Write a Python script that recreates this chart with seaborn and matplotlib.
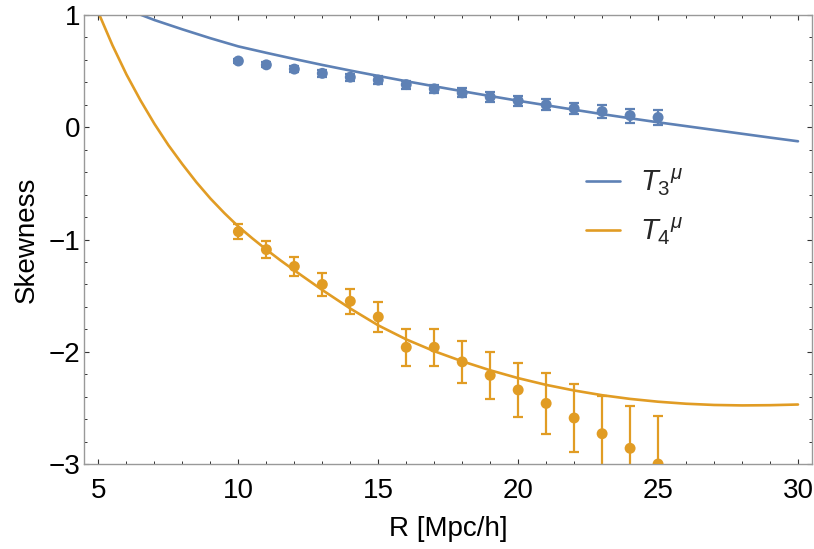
import matplotlib
matplotlib.use("Agg")
import numpy as np
import pandas as pd
import seaborn as sns
import matplotlib.pyplot as plt
from matplotlib.ticker import MultipleLocator
from matplotlib.lines import Line2D

# ---------------- data ----------------
R_pts = [10, 11, 12, 13, 14, 15, 16, 17, 18, 19, 20, 21, 22, 23, 24, 25]

T3_pts = [0.59, 0.556, 0.518, 0.48, 0.446, 0.42, 0.38, 0.342, 0.306, 0.27,
          0.235, 0.20, 0.167, 0.14, 0.104, 0.087]
T3_err = [0.02, 0.022, 0.025, 0.028, 0.03, 0.033, 0.035, 0.037, 0.04, 0.042,
          0.045, 0.048, 0.052, 0.056, 0.062, 0.068]

T4_pts = [-0.93, -1.09, -1.24, -1.40, -1.55, -1.69, -1.96, -1.96, -2.09, -2.21,
          -2.34, -2.46, -2.59, -2.73, -2.86, -3.0]
T4_err = [0.064, 0.074, 0.086, 0.10, 0.11, 0.13, 0.165, 0.165, 0.19, 0.21,
          0.24, 0.27, 0.30, 0.34, 0.38, 0.43]

R_T3_curve = [6.5, 7, 8, 9, 10, 11, 12, 13, 14, 15, 16, 17, 18, 19, 20, 21,
              22, 23, 24, 25, 26, 27, 28, 29, 30]
T3_curve = [1.003, 0.955, 0.872, 0.793, 0.72, 0.663, 0.608, 0.555, 0.505, 0.457,
            0.41, 0.365, 0.321, 0.278, 0.236, 0.196, 0.156, 0.117, 0.08, 0.044,
            0.01, -0.024, -0.058, -0.092, -0.125]

R_T4_curve = [5.0, 5.5, 6.0, 6.5, 7.0, 7.5, 8.0, 8.5, 9.0, 9.5, 10, 10.5,
              11, 11.5, 12, 13, 14, 15, 16, 17, 18, 19, 20, 21, 22, 23, 24,
              25, 26, 27, 28, 29, 30]
T4_curve = [1.02, 0.73, 0.47, 0.24, 0.03, -0.16, -0.33, -0.49, -0.635, -0.765,
            -0.885, -0.99, -1.09, -1.185, -1.275, -1.45, -1.615, -1.765,
            -1.89, -1.995, -2.085, -2.165, -2.235, -2.295, -2.345, -2.387,
            -2.42, -2.445, -2.463, -2.474, -2.478, -2.476, -2.47]

legend_labels = [r"$T_3{}^{\mu}$", r"$T_4{}^{\mu}$"]
x_label = "R [Mpc/h]"
y_label = "Skewness"

BLUE = "#5E81B5"
ORANGE = "#E19C24"

# ---------------- style ----------------
sns.set_theme(style="white")
plt.rcParams["font.family"] = ["Liberation Sans", "DejaVu Sans"]
plt.rcParams["mathtext.fontset"] = "custom"
plt.rcParams["mathtext.rm"] = "Liberation Sans"
plt.rcParams["mathtext.it"] = "Liberation Sans:italic"
plt.rcParams["axes.unicode_minus"] = True

FS = 20

fig, ax = plt.subplots(figsize=(8.14, 5.49), dpi=100)
fig.subplots_adjust(left=0.1038, right=0.9975, top=0.9727, bottom=0.1548)

df_c3 = pd.DataFrame({"R": R_T3_curve, "v": T3_curve})
df_c4 = pd.DataFrame({"R": R_T4_curve, "v": T4_curve})
sns.lineplot(data=df_c3, x="R", y="v", ax=ax, color=BLUE, lw=1.9, sort=True)
sns.lineplot(data=df_c4, x="R", y="v", ax=ax, color=ORANGE, lw=1.9, sort=True)

ax.errorbar(R_pts, T3_pts, yerr=T3_err, fmt="none", ecolor=BLUE,
            elinewidth=1.6, capsize=3.4, capthick=1.6)
ax.errorbar(R_pts, T4_pts, yerr=T4_err, fmt="none", ecolor=ORANGE,
            elinewidth=1.6, capsize=3.4, capthick=1.6)

df_p3 = pd.DataFrame({"R": R_pts, "v": T3_pts})
df_p4 = pd.DataFrame({"R": R_pts, "v": T4_pts})
sns.scatterplot(data=df_p3, x="R", y="v", ax=ax, color=BLUE, s=62,
                edgecolor="none", zorder=5)
sns.scatterplot(data=df_p4, x="R", y="v", ax=ax, color=ORANGE, s=62,
                edgecolor="none", zorder=5)

ax.set_xlim(4.5, 30.5)
ax.set_ylim(-3, 1)
ax.xaxis.set_major_locator(MultipleLocator(5))
ax.xaxis.set_minor_locator(MultipleLocator(1))
ax.yaxis.set_major_locator(MultipleLocator(1))
ax.yaxis.set_minor_locator(MultipleLocator(0.2))

for sp in ax.spines.values():
    sp.set_visible(True)
    sp.set_color("#999999")
    sp.set_linewidth(1.0)

ax.tick_params(which="both", direction="in", top=True, right=True,
               bottom=True, left=True,
               color="#333333", labelcolor="black", labelsize=FS)
ax.tick_params(which="major", length=3.8, width=0.8)
ax.tick_params(which="minor", length=2.4, width=0.7)
ax.tick_params(axis="y", which="major", pad=3)
ax.tick_params(axis="x", which="major", pad=10)

ax.set_xlabel(x_label, fontsize=FS, labelpad=9, color="black")
ax.set_ylabel(y_label, fontsize=FS, labelpad=6, color="black")

handles = [Line2D([], [], color=BLUE, lw=1.9), Line2D([], [], color=ORANGE, lw=1.9)]
ax.legend(handles, legend_labels, loc="center left",
          bbox_to_anchor=(0.690, 0.572), frameon=False, borderpad=0,
          borderaxespad=0, handlelength=1.15, handletextpad=0.7,
          labelspacing=0.6, fontsize=FS + 1)

fig.savefig("out.png", dpi=100)
